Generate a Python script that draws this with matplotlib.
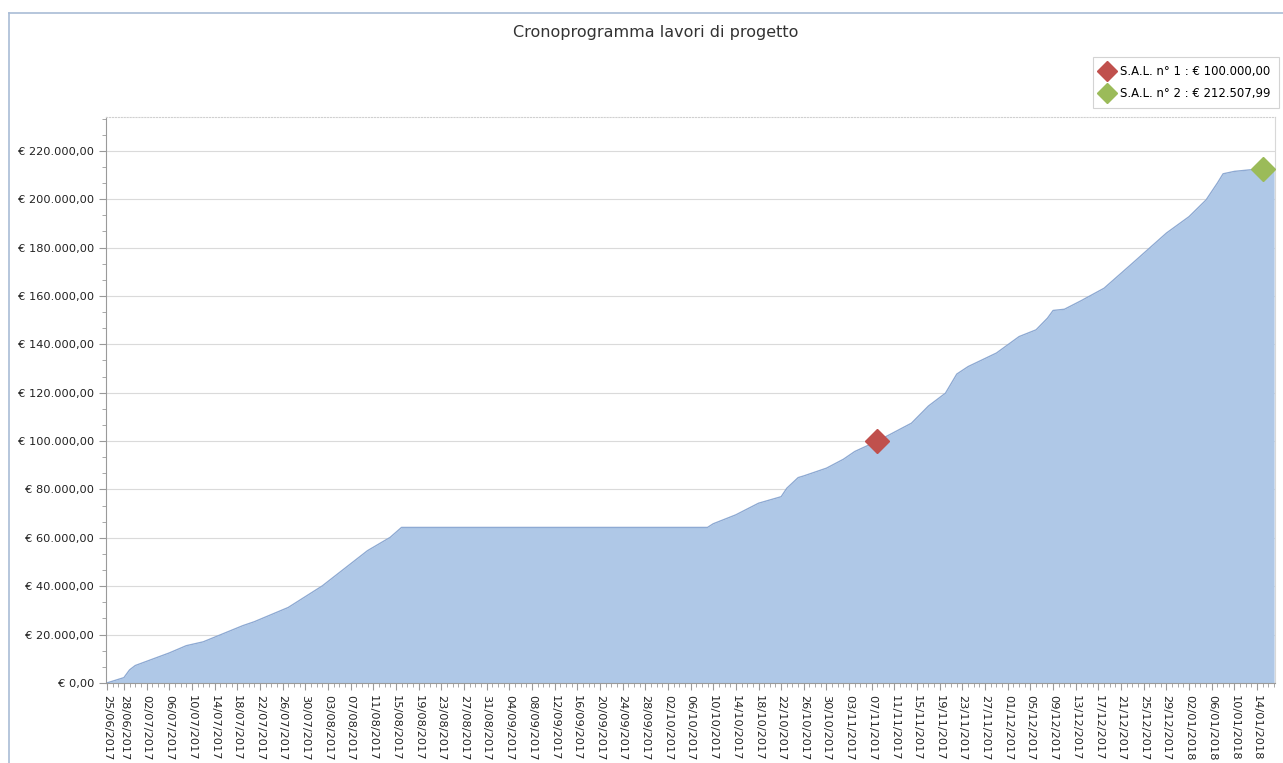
import matplotlib
matplotlib.use("Agg")
import matplotlib.pyplot as plt
import matplotlib.dates as mdates
import matplotlib.ticker as mticker
from matplotlib.lines import Line2D
import pandas as pd

# cumulative amount of works (EUR)
dates = ["25/06/2017", "28/06/2017", "29/06/2017", "30/06/2017", "06/07/2017",
         "09/07/2017", "12/07/2017", "19/07/2017", "21/07/2017", "27/07/2017",
         "02/08/2017", "10/08/2017", "14/08/2017", "16/08/2017", "09/10/2017",
         "10/10/2017", "14/10/2017", "18/10/2017", "22/10/2017", "23/10/2017",
         "25/10/2017", "26/10/2017", "30/10/2017", "02/11/2017", "04/11/2017",
         "08/11/2017", "14/11/2017", "17/11/2017", "20/11/2017", "22/11/2017",
         "24/11/2017", "29/11/2017", "03/12/2017", "06/12/2017", "08/12/2017",
         "09/12/2017", "11/12/2017", "14/12/2017", "18/12/2017", "23/12/2017",
         "29/12/2017", "02/01/2018", "05/01/2018", "07/01/2018", "08/01/2018",
         "10/01/2018", "13/01/2018", "15/01/2018", "17/01/2018"]
values = [0, 2200, 5400, 7200, 12400,
          15400, 17000, 23700, 25300, 31200,
          40100, 54700, 60200, 64300, 64300,
          65800, 69500, 74300, 77000, 80500,
          84900, 85600, 88800, 92500, 95700,
          100000, 107400, 114500, 119800, 127700,
          130800, 136400, 143200, 146000, 150800,
          154000, 154500, 158100, 163200, 173500,
          186000, 192800, 199700, 206700, 210500,
          211500, 212200, 212508, 212508]

sal_dates = ["08/11/2017", "15/01/2018"]
sal_values = [100000.00, 212507.99]
sal_labels = ["S.A.L. n° 1 : € 100.000,00", "S.A.L. n° 2 : € 212.507,99"]
sal_colors = ["#C0504D", "#9BBB59"]

x = pd.to_datetime(dates, format="%d/%m/%Y")
sal_x = pd.to_datetime(sal_dates, format="%d/%m/%Y")

plt.rcParams["font.family"] = ["DejaVu Sans"]

fig = plt.figure(figsize=(12.83, 7.63), dpi=100)
ax = fig.add_axes([0.0826, 0.1049, 0.9112, 0.7418])

ax.fill_between(x, values, 0, color="#AFC8E7", lw=0)
ax.plot(x, values, color="#8EAAD3", lw=1)

for sx, sv, lab, c in zip(sal_x, sal_values, sal_labels, sal_colors):
    ax.plot([sx], [sv], marker="D", ms=12, color=c, ls="none", label=lab, zorder=5)

ax.set_xlim(pd.Timestamp("2017-06-24 20:00"), pd.Timestamp("2018-01-17 04:00"))
ax.set_ylim(0, 234000)

ticks = [pd.Timestamp("2017-06-25")] + list(pd.date_range("2017-06-28", "2018-01-14", freq="4D"))
ax.set_xticks(mdates.date2num(ticks))
ax.xaxis.set_major_formatter(mdates.DateFormatter("%d/%m/%Y"))
ax.xaxis.set_minor_locator(mdates.DayLocator())
plt.setp(ax.get_xticklabels(), rotation=270, ha="center", va="top")

ax.yaxis.set_major_locator(mticker.MultipleLocator(20000))
ax.yaxis.set_minor_locator(mticker.MultipleLocator(20000 / 3))


def eur(v, pos):
    s = f"{v:,.2f}".replace(",", "X").replace(".", ",").replace("X", ".")
    return "€ " + s


ax.yaxis.set_major_formatter(mticker.FuncFormatter(eur))

ax.tick_params(axis="both", which="major", labelsize=8.2, colors="#9A9A9A",
               labelcolor="#222222", length=5, width=0.8)
ax.tick_params(axis="both", which="minor", colors="#9A9A9A", length=3, width=0.6)

ax.grid(axis="y", which="major", color="#DADADA", lw=0.8)
ax.set_axisbelow(True)

for side in ["left", "bottom"]:
    ax.spines[side].set_color("#9A9A9A")
ax.spines["top"].set_color("#D0D0D0")
ax.spines["top"].set_linestyle(":")
ax.spines["right"].set_color("#D8D8D8")

fig.text(0.511, 0.958, "Cronoprogramma lavori di progetto", ha="center", va="center",
         fontsize=11.5, color="#333333")

leg = ax.legend(loc="upper right", bbox_to_anchor=(0.9965, 0.925),
                bbox_transform=fig.transFigure, borderaxespad=0, fontsize=8.4,
                frameon=True, fancybox=False, edgecolor="#C8C8C8", handlelength=1.0,
                handletextpad=0.6, borderpad=0.7, labelspacing=0.75, markerscale=0.85)
leg.get_frame().set_linewidth(0.8)

# window border
fig.add_artist(Line2D([0.007, 0.007], [0, 0.983], transform=fig.transFigure,
                      color="#A9BCD6", lw=1.2))
fig.add_artist(Line2D([0.007, 1], [0.983, 0.983], transform=fig.transFigure,
                      color="#A9BCD6", lw=1.2))

fig.savefig("out.png", dpi=100)
